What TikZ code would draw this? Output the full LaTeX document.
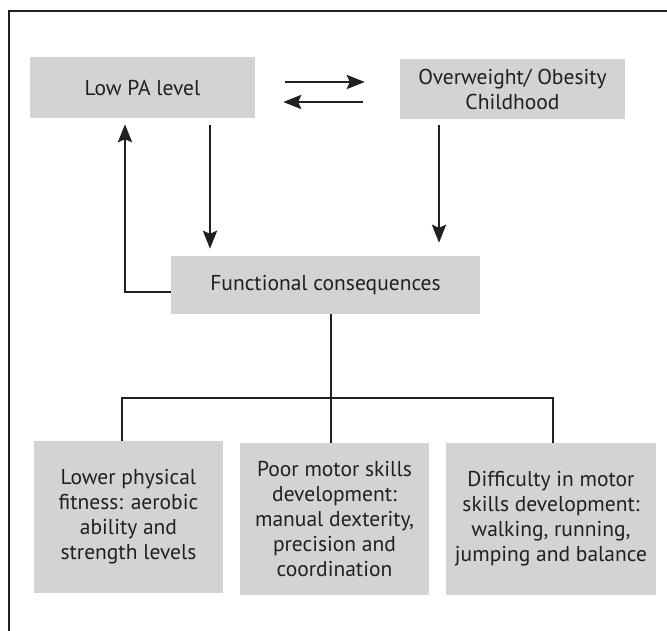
\documentclass[tikz,border=0pt]{standalone}
\usepackage{fontspec}
\setmainfont{PT Sans}
\usetikzlibrary{arrows.meta}
\definecolor{boxgray}{HTML}{D1D3D4}
\definecolor{inkgray}{HTML}{231F20}
\tikzstyle{box} = [fill=boxgray, text=inkgray, align=center, inner sep=0pt]
\tikzstyle{link} = [draw=inkgray, line width=2.6pt]
\tikzstyle{arr} = [link, -{Stealth[length=18pt,width=14pt,inset=3pt]}]

\begin{document}
\begin{tikzpicture}[
  x=1pt, y=1pt,
  font=\fontsize{21.5}{25}\selectfont,
]
\useasboundingbox (0,0) rectangle (667,631);
\draw[link, line width=2.4pt] (9,0) -- (9,620) -- (667,620);

\node[box, minimum width=225pt, minimum height=61pt] (lowpa) at (142.5,543.5) {Low PA level};
\node[box, minimum width=225pt, minimum height=60pt] (obese) at (512.5,542) {Overweight/ Obesity\\Childhood};
\node[box, minimum width=309pt, minimum height=58pt] (func) at (325.5,346) {Functional consequences};
\node[box, minimum width=189pt, minimum height=152pt] (fit) at (128.5,114) {Lower physical\\fitness: aerobic\\ability and\\strength levels};
\node[box, minimum width=189pt, minimum height=152pt] (motor) at (334.5,112) {Poor motor skills\\development:\\manual dexterity,\\precision and\\coordination};
\node[box, minimum width=210pt, minimum height=152pt] (walk) at (551,112) {Difficulty in motor\\skills development:\\walking, running,\\jumping and balance};

\draw[arr] ([xshift=30pt,yshift=5.5pt]lowpa.east) -- ([xshift=-35pt,yshift=7pt]obese.west);
\draw[arr] ([xshift=-37pt,yshift=-13pt]obese.west) -- ([xshift=28pt,yshift=-14.5pt]lowpa.east);
\draw[arr] ([xshift=67.5pt,yshift=-7pt]lowpa.south) -- ([xshift=-115.5pt,yshift=7pt]func.north);
\draw[arr] ([xshift=-73.5pt,yshift=-6pt]obese.south) -- ([xshift=113.5pt,yshift=13pt]func.north);
\draw[arr] ([yshift=-7pt]func.west) -| ([xshift=-17.5pt,yshift=-6pt]lowpa.south);

\coordinate (split) at (331,233);
\draw[link] (func.south -| split) -- (motor.north -| split);
\draw[link] ([xshift=-6.5pt]fit.north) |- (split) -| ([xshift=2pt]walk.north);
\end{tikzpicture}
\end{document}
